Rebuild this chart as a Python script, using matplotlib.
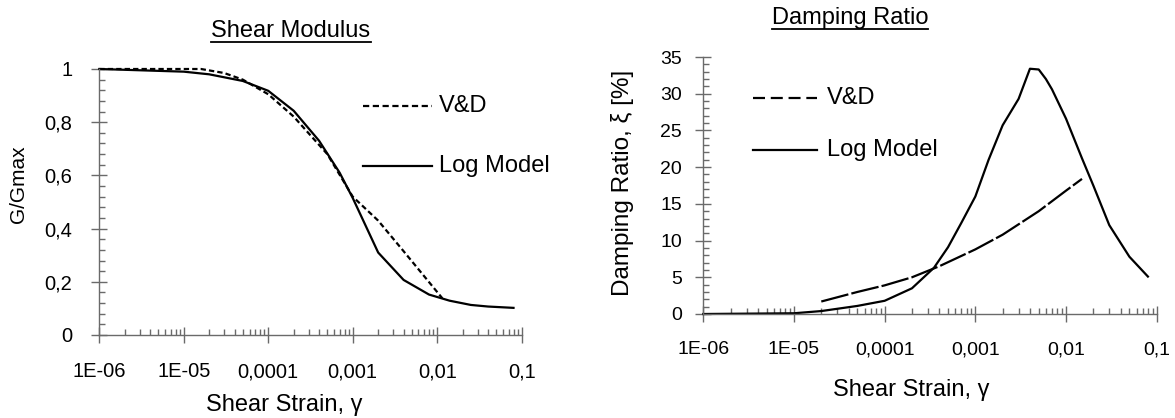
import matplotlib
matplotlib.use("Agg")
import matplotlib.pyplot as plt
from matplotlib.ticker import FixedLocator, FixedFormatter, LogLocator, NullFormatter, MultipleLocator
from matplotlib.lines import Line2D

plt.rcParams['font.family'] = ['Liberation Sans', 'DejaVu Sans']

# ---------------- data ----------------
# Shear modulus (G/Gmax)
g_log_strain = [1e-6, 1e-5, 2e-5, 5e-5, 1e-4, 2e-4, 4e-4, 7e-4, 1e-3, 2e-3, 4e-3, 8e-3, 1.4e-2, 2.5e-2, 4e-2, 8e-2]
g_log_ratio = [1.0, 0.99, 0.98, 0.955, 0.918, 0.843, 0.73, 0.61, 0.515, 0.31, 0.207, 0.152, 0.129, 0.113, 0.107, 0.102]
g_vd_strain = [1e-6, 1.6e-5, 3e-5, 5e-5, 1e-4, 2e-4, 5e-4, 1e-3, 2e-3, 4e-3, 1.15e-2]
g_vd_ratio = [1.0, 1.0, 0.985, 0.96, 0.905, 0.821, 0.68, 0.52, 0.43, 0.315, 0.138]

# Damping ratio [%]
d_log_strain = [1e-6, 1e-5, 2e-5, 5e-5, 1e-4, 2e-4, 3.5e-4, 5e-4, 7e-4, 1e-3, 1.4e-3, 2e-3, 3e-3,
                4e-3, 5e-3, 6e-3, 7e-3, 1e-2, 1.5e-2, 2e-2, 3e-2, 5e-2, 8e-2]
d_log_ratio = [0.0, 0.1, 0.4, 1.1, 1.8, 3.5, 6.3, 9.1, 12.4, 16.0, 21.0, 25.7, 29.3,
               33.4, 33.3, 32.0, 30.6, 26.6, 21.2, 17.5, 12.1, 7.8, 5.1]
d_vd_strain = [2e-5, 5e-5, 1e-4, 2e-4, 4e-4, 1e-3, 2e-3, 5e-3, 1e-2, 1.5e-2]
d_vd_ratio = [1.7, 3.0, 3.9, 5.0, 6.5, 8.8, 10.8, 14.0, 16.8, 18.4]

x_ticks = [1e-6, 1e-5, 1e-4, 1e-3, 1e-2, 1e-1]
x_tick_labels = ["1E-06", "1E-05", "0,0001", "0,001", "0,01", "0,1"]
g_ticks = [0, 0.2, 0.4, 0.6, 0.8, 1.0]
g_tick_labels = ["0", "0,2", "0,4", "0,6", "0,8", "1"]
d_ticks = [0, 5, 10, 15, 20, 25, 30, 35]
d_tick_labels = ["0", "5", "10", "15", "20", "25", "30", "35"]

# ---------------- layout ----------------
W, H = 1175, 418
fig = plt.figure(figsize=(W / 100, H / 100), dpi=100)


def fx(x):
    return x / W


def fy(y):
    return 1 - y / H


GRAY = '#6a6a6a'
LW = 1.6

axL = fig.add_axes([fx(99.3), fy(335), fx(521.7) - fx(99.3), fy(69) - fy(335)])
axR = fig.add_axes([fx(703.3), fy(314), fx(1156.7) - fx(703.3), fy(57) - fy(314)])


def style(ax, yticks, ylabels, yminor, ylim, xpad, ypad, lsize):
    ax.set_xscale('log')
    ax.set_xlim(1e-6, 1e-1)
    ax.set_ylim(*ylim)
    ax.xaxis.set_major_locator(FixedLocator(x_ticks))
    ax.xaxis.set_major_formatter(FixedFormatter(x_tick_labels))
    ax.xaxis.set_minor_locator(LogLocator(base=10, subs=range(2, 10), numticks=20))
    ax.xaxis.set_minor_formatter(NullFormatter())
    ax.yaxis.set_major_locator(FixedLocator(yticks))
    ax.yaxis.set_major_formatter(FixedFormatter(ylabels))
    ax.yaxis.set_minor_locator(MultipleLocator(yminor))
    for s in ['top', 'right']:
        ax.spines[s].set_visible(False)
    for s in ['left', 'bottom']:
        ax.spines[s].set_color(GRAY)
        ax.spines[s].set_linewidth(1.0)
    ax.tick_params(which='major', direction='inout', length=11, width=1.0, color=GRAY,
                   labelsize=lsize, labelcolor='black')
    ax.tick_params(which='minor', direction='in', length=4, width=1.0, color=GRAY)
    ax.tick_params(axis='x', which='major', pad=xpad)
    ax.tick_params(axis='y', which='major', pad=ypad)
    ax.patch.set_alpha(0)


style(axL, g_ticks, g_tick_labels, 0.04, (0, 1), 14, 14, 14.5)
style(axR, d_ticks, d_tick_labels, 1, (0, 35), 14, 10, 14)

# curves
axL.plot(g_vd_strain, g_vd_ratio, color='black', lw=LW, dashes=(2.4, 1.4), clip_on=False)
axL.plot(g_log_strain, g_log_ratio, color='black', lw=LW, clip_on=False)
axR.plot(d_vd_strain, d_vd_ratio, color='black', lw=LW, dashes=(12.6, 1.4), clip_on=False)
axR.plot(d_log_strain, d_log_ratio, color='black', lw=LW, clip_on=False)

# legends (drawn as line + text, Excel style)
FS = 17


def legend_entry(x0, x1, y, tx, label, dashes=None):
    ln = Line2D([fx(x0), fx(x1)], [fy(y), fy(y)], transform=fig.transFigure,
                color='black', lw=LW)
    if dashes is not None:
        ln.set_dashes(dashes)
    fig.add_artist(ln)
    fig.text(fx(tx), fy(y), label, fontsize=FS, va='center', ha='left')


legend_entry(363.3, 431.7, 105.7, 439.3, "V&D", dashes=(2.8, 1.6))
legend_entry(363.3, 431.7, 166.0, 439.3, "Log Model")
legend_entry(753.3, 816.7, 98.3, 826.7, "V&D", dashes=(5.4, 2.6))
legend_entry(753.3, 816.7, 150.0, 826.7, "Log Model")

# titles (underlined)
tL = fig.text(fx(291), fy(36.7), "Shear Modulus", fontsize=FS, ha='center', va='baseline')
tR = fig.text(fx(850), fy(23.7), "Damping Ratio", fontsize=FS, ha='center', va='baseline')

# axis labels
fig.text(fx(284), fy(411), "Shear Strain, γ", fontsize=FS, ha='center', va='baseline')
fig.text(fx(911), fy(396), "Shear Strain, γ", fontsize=FS, ha='center', va='baseline')
fig.text(fx(18.5), fy(184), "G/Gmax", fontsize=15, ha='center', va='center', rotation=90)
fig.text(fx(622), fy(183), "Damping Ratio, ξ [%]", fontsize=17.5, ha='center', va='center', rotation=90)

# underline titles
fig.canvas.draw()
r = fig.canvas.get_renderer()
for t, uy in [(tL, 42.3), (tR, 29.3)]:
    bb = t.get_window_extent(renderer=r)
    fig.add_artist(Line2D([bb.x0 / W, bb.x1 / W], [fy(uy), fy(uy)], transform=fig.transFigure,
                          color='black', lw=1.3))

fig.savefig("out.png", dpi=100)
